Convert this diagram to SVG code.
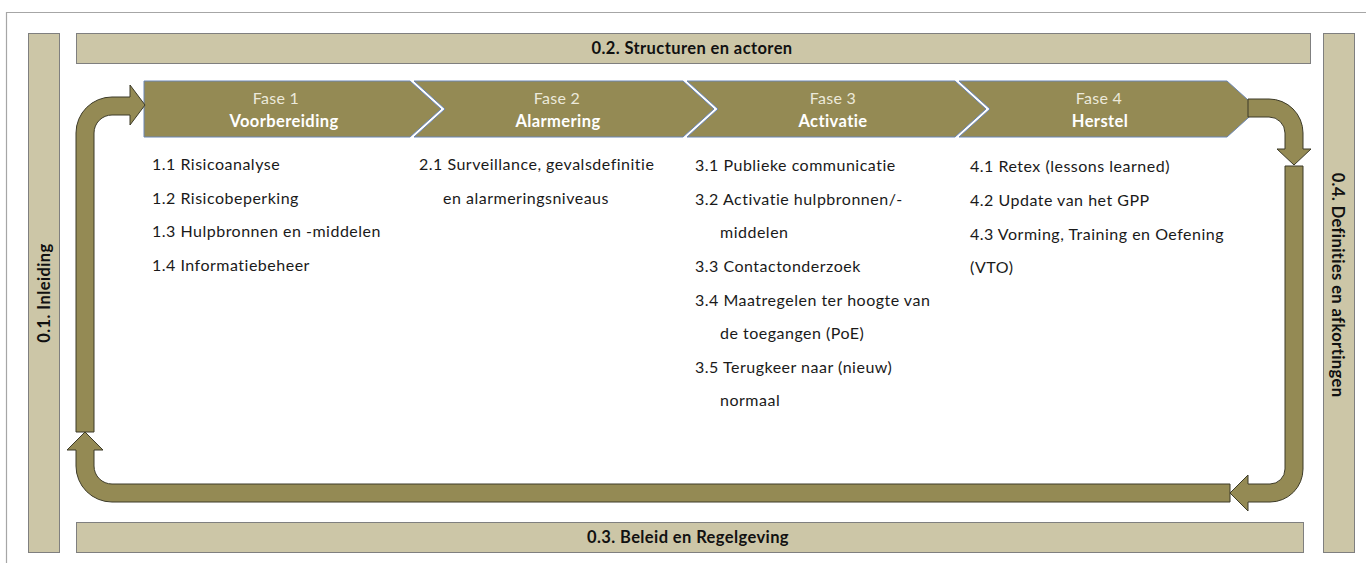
<svg xmlns="http://www.w3.org/2000/svg" width="1366" height="563" viewBox="0 0 1366 563">
  <style>
    .bar { fill: #CCC6A7; stroke: #7f7f7f; stroke-width: 1; }
    .barlabel { font-family: Lato, "Open Sans", sans-serif; font-weight: bold; font-size: 16.5px; letter-spacing: 0.4px; fill: #111; text-anchor: middle; }
    .chev { fill: #948A54; stroke: #6b86b5; stroke-width: 1; }
    .fase { font-family: Lato, "Open Sans", sans-serif; font-size: 16px; letter-spacing: 0.3px; fill: #ece9da; text-anchor: middle; }
    .title { font-family: Lato, "Open Sans", sans-serif; font-weight: bold; font-size: 16.5px; letter-spacing: 0.4px; fill: #ffffff; text-anchor: middle; }
    .item { font-family: Lato, "Open Sans", sans-serif; font-size: 16px; letter-spacing: 0.5px; fill: #1a1a1a; }
    .arrow { fill: #948A54; stroke: #3d3b28; stroke-width: 1; stroke-linejoin: miter; }
  </style>

  <!-- page frame -->
  <path d="M6.5,563 L6.5,12.5 L1366,12.5" fill="none" stroke="#a6a6a6" stroke-width="1.2"/>

  <!-- framing bars -->
  <g id="inleiding">
    <rect class="bar" x="28.5" y="33.5" width="31" height="519"/>
    <text class="barlabel" transform="translate(50,293) rotate(-90)">0.1. Inleiding</text>
  </g>
  <g id="structuren">
    <rect class="bar" x="76.5" y="33.5" width="1234" height="30"/>
    <text class="barlabel" x="692" y="54">0.2. Structuren en actoren</text>
  </g>
  <g id="beleid">
    <rect class="bar" x="76.5" y="522.5" width="1227" height="30"/>
    <text class="barlabel" x="688" y="543">0.3. Beleid en Regelgeving</text>
  </g>
  <g id="definities">
    <rect class="bar" x="1323.5" y="33.5" width="31" height="519"/>
    <text class="barlabel" transform="translate(1332,285) rotate(90)">0.4. Definities en afkortingen</text>
  </g>

  <!-- phases -->
  <g id="fase1">
    <polygon class="chev" points="144,81 410,81 441,109 410,137 144,137"/>
    <text class="fase" x="276" y="104">Fase 1</text>
    <text class="title" x="284" y="127">Voorbereiding</text>
    <text class="item" x="152" y="170">1.1 Risicoanalyse</text>
    <text class="item" x="152" y="203.5">1.2 Risicobeperking</text>
    <text class="item" x="152" y="237">1.3 Hulpbronnen en -middelen</text>
    <text class="item" x="152" y="271">1.4 Informatiebeheer</text>
  </g>
  <g id="fase2">
    <polygon class="chev" points="414,81 683,81 714,109 683,137 414,137 445,109"/>
    <text class="fase" x="557" y="104">Fase 2</text>
    <text class="title" x="558" y="127">Alarmering</text>
    <text class="item" x="419" y="170">2.1 Surveillance, gevalsdefinitie</text>
    <text class="item" x="443" y="204">en alarmeringsniveaus</text>
  </g>
  <g id="fase3">
    <polygon class="chev" points="687,81 955,81 986,109 955,137 687,137 718,109"/>
    <text class="fase" x="833" y="104">Fase 3</text>
    <text class="title" x="833" y="127">Activatie</text>
    <text class="item" x="695" y="171">3.1 Publieke communicatie</text>
    <text class="item" x="695" y="204.5">3.2 Activatie hulpbronnen/-</text>
    <text class="item" x="720" y="238">middelen</text>
    <text class="item" x="695" y="272">3.3 Contactonderzoek</text>
    <text class="item" x="695" y="305.5">3.4 Maatregelen ter hoogte van</text>
    <text class="item" x="720" y="339">de toegangen (PoE)</text>
    <text class="item" x="695" y="372.5">3.5 Terugkeer naar (nieuw)</text>
    <text class="item" x="720" y="406">normaal</text>
  </g>
  <g id="fase4">
    <polygon class="chev" points="959,81 1227,81 1258,109 1227,137 959,137 990,109"/>
    <text class="fase" x="1099" y="104">Fase 4</text>
    <text class="title" x="1100" y="127">Herstel</text>
    <text class="item" x="970" y="172">4.1 Retex (lessons learned)</text>
    <text class="item" x="970" y="205.5">4.2 Update van het GPP</text>
    <text class="item" x="970" y="239.5">4.3 Vorming, Training en Oefening</text>
    <text class="item" x="970" y="273">(VTO)</text>
  </g>

  <!-- cycle connectors -->
  <g id="connectors">
    <path class="arrow" d="M1248,99 L1269,99 A34,34 0 0 1 1303,133 L1303,149 L1311,149 L1294,165 L1277,149 L1285,149 L1285,133 A16,16 0 0 0 1269,117 L1248,117 Z"/>
    <path class="arrow" d="M1285,166 L1303,166 L1303,469 A33,33 0 0 1 1270,502 L1248,502 L1248,511 L1230,493 L1248,475 L1248,484 L1270,484 A15,15 0 0 0 1285,469 Z"/>
    <path class="arrow" d="M1230,484 L1230,502 L112,502 A36,36 0 0 1 76,466 L76,450 L67,450 L85,432 L103,450 L94,450 L94,466 A18,18 0 0 0 112,484 Z"/>
    <path class="arrow" d="M76,432 L76,133 A36,36 0 0 1 112,97 L130,97 L130,85 L145,105 L130,125 L130,115 L112,115 A18,18 0 0 0 94,133 L94,432 Z"/>
  </g>
</svg>
